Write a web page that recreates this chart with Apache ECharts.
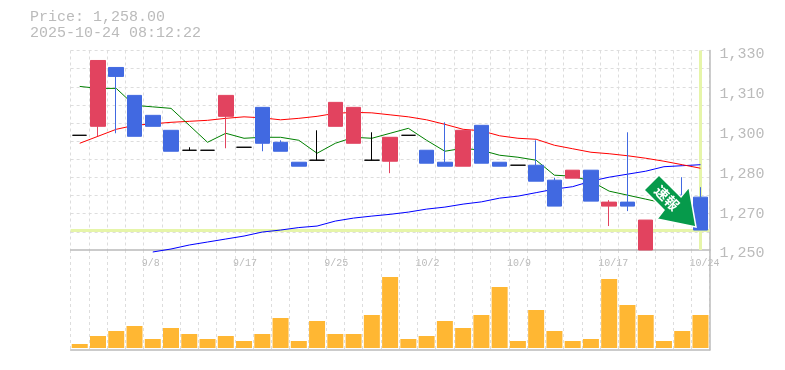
<!DOCTYPE html>
<html><head><meta charset="utf-8">
<script src="https://cdn.jsdelivr.net/npm/echarts@6/dist/echarts.min.js"></script>
<style>html,body{margin:0;padding:0;background:#fff}#c{width:785px;height:370px}</style>
</head><body><div id="c"></div>
<script>
const dates=['9/2','9/3','9/4','9/5','9/8','9/9','9/10','9/11','9/12','9/17','9/18','9/19','9/22','9/24','9/25','9/26','9/29','9/30','10/1','10/2','10/3','10/6','10/7','10/8','10/9','10/10','10/14','10/15','10/16','10/17','10/20','10/21','10/22','10/23','10/24'];
const shownDates=['9/8','9/17','9/25','10/2','10/9','10/17','10/24'];
const opens=[1296,1299.6,1323.2,1312,1304,1298,1290,1290,1303.6,1291.2,1307.2,1293.2,1285.2,1286,1299.6,1292.8,1286,1285.6,1296,1290,1285.2,1283.6,1300,1285.2,1284,1284,1278,1278.8,1282,1267.6,1269.2,1250,1274,1272,1271.2];
const closes=[1296,1326,1319.6,1295.6,1299.6,1289.6,1290,1290,1312,1291.2,1292.8,1289.6,1283.6,1286,1309.2,1307.2,1286,1295.2,1296,1284.8,1283.6,1298,1284.8,1283.6,1284,1277.6,1267.6,1282,1269.6,1269.2,1267.6,1262,1270,1264,1258];
const lows=[1296,1295.6,1296.8,1295.6,1299.6,1289.6,1290,1290,1290.8,1291.2,1289.6,1289.6,1283.6,1286,1299.6,1292.8,1286,1280.8,1296,1284.8,1283.6,1283.6,1284.8,1283.6,1284,1277.6,1267.6,1278.8,1269.6,1259.6,1265.6,1250,1270,1264,1258];
const highs=[1296,1326,1323.2,1312,1304,1298,1291.2,1290,1312,1291.2,1307.2,1294,1285.2,1298,1309.2,1307.2,1297.2,1295.2,1296,1290,1301.2,1298,1300,1285.2,1284,1294,1279,1282,1282,1270,1297.2,1262,1274,1279.2,1275.2];
const maShort=[1315.6,1314.8,1314.8,1308,1307.4,1306.8,1300,1293.2,1296.8,1294.8,1295.2,1295.2,1294,1288.8,1292.8,1295.2,1294.8,1296.8,1298.8,1294,1289.6,1290.8,1290,1288,1287.2,1286,1280,1279.6,1277.6,1273.6,1272,1270.4,1268.8,1267.6,1266];
const maMid=[1292.8,1295.6,1298.4,1300,1300.6,1301.2,1301.6,1302,1302.8,1303.4,1303,1302.2,1302.8,1303.6,1304.8,1305.2,1305,1304.2,1303.4,1302.2,1300.4,1298.4,1297.8,1295.8,1294.8,1294.4,1292,1290.6,1289.2,1288.6,1287.8,1286.8,1285.6,1284.2,1282.8];
const maLong=[null,null,null,null,1249.2,1250.4,1252,1253.2,1254.4,1255.6,1257.2,1258,1259,1259.6,1261.6,1262.8,1263.6,1264.3,1265.2,1266.4,1267.2,1268.4,1269.3,1270.8,1271.6,1273,1274.4,1275.4,1277.6,1279.2,1280.4,1281.6,1283.4,1283.8,1284.2];
const volumes=[4,12,17,22,9,20,14,9,12,7,14,30,7,27,14,14,33,71,9,12,27,20,33,61,7,38,17,7,9,69,43,33,7,17,33];
const gridPrices=[1250,1257.27,1264.55,1271.82,1279.09,1286.36,1293.64,1300.91,1308.18,1315.45,1322.73,1330];
const tickPrices=[1250,1266,1282,1298,1314,1330];
const tickLabels=['1,250','1,270','1,280','1,300','1,310','1,330'];
const lastPrice=1258, lastDate='10/24';
const priceText='Price: 1,258.00', timeText='2025-10-24 08:12:22', badgeText='速報';

const MONO='"Liberation Mono",monospace';
const GREY='#bbbbbb', GRID='#dddddd';
const dash={color:GRID,width:1,type:[3,3]};
const chart=echarts.init(document.getElementById('c'),null,{renderer:'canvas'});
chart.setOption({
  animation:false,
  backgroundColor:'#fff',
  title:{left:30,top:9,padding:0,text:priceText+'\n'+timeText,textStyle:{fontFamily:MONO,fontSize:15,fontWeight:'normal',color:GREY,lineHeight:16}},
  grid:[{left:70.6,width:639,top:50.5,height:199.5},{left:70.6,width:639,top:250,height:100}],
  xAxis:[
    {type:'category',gridIndex:0,data:dates,boundaryGap:true,
     axisLine:{onZero:false,lineStyle:{color:GREY,width:1.5}},axisTick:{show:false},
     splitLine:{show:true,interval:0,lineStyle:dash},
     axisLabel:{interval:(i,v)=>shownDates.includes(v),fontFamily:MONO,fontSize:10,color:GREY,margin:8,align:'left',padding:[0,0,0,-11],hideOverlap:false,showMaxLabel:true}},
    {type:'category',gridIndex:1,data:dates,boundaryGap:true,
     axisLine:{onZero:false,lineStyle:{color:GREY,width:1.5}},axisTick:{show:false},axisLabel:{show:false},
     splitLine:{show:true,interval:0,lineStyle:dash}}
  ],
  yAxis:[
    {type:'value',gridIndex:0,position:'right',min:1250,max:1330,scale:true,
     axisLine:{show:true,lineStyle:{color:GREY,width:1.5}},
     axisTick:{show:false,customValues:gridPrices},
     splitLine:{show:true,showMinLine:false,lineStyle:dash},
     axisLabel:{customValues:tickPrices,formatter:v=>tickLabels[tickPrices.indexOf(v)],fontFamily:MONO,fontSize:15,color:GREY,margin:10,verticalAlign:'top',padding:[-4,0,0,0]}},
    {type:'value',gridIndex:1,position:'right',min:-2,max:98,
     axisLine:{show:true,lineStyle:{color:GREY,width:1.5}},axisTick:{show:false},axisLabel:{show:false},splitLine:{show:false}}
  ],
  series:[
    {type:'line',name:'long',data:maLong,xAxisIndex:0,yAxisIndex:0,z:3,clip:false,symbol:'none',connectNulls:false,lineStyle:{color:'#0000ff',width:1},
     markLine:{silent:true,symbol:'none',label:{show:false},z:2,lineStyle:{color:'#e6f5a9',width:3,type:'solid'},data:[{yAxis:lastPrice},{xAxis:lastDate}]}},
    {type:'line',name:'mid',data:maMid,xAxisIndex:0,yAxisIndex:0,z:3,clip:false,symbol:'none',lineStyle:{color:'#ff0000',width:1}},
    {type:'line',name:'short',data:maShort,xAxisIndex:0,yAxisIndex:0,z:3,clip:false,symbol:'none',lineStyle:{color:'#008000',width:1}},
    {type:'candlestick',name:'price',xAxisIndex:0,yAxisIndex:0,z:4,barWidth:15,
     data:dates.map((_,i)=>[opens[i],closes[i],lows[i],highs[i]]),
     itemStyle:{color:'#e2435f',color0:'#4169e1',borderColor:'#e2435f',borderColor0:'#4169e1',borderColorDoji:'#000000',borderWidth:1}},
    {type:'bar',name:'volume',xAxisIndex:1,yAxisIndex:1,data:volumes,barWidth:16,itemStyle:{color:'#ffb733'}}
  ],
  graphic:[
    {type:'polygon',z:100,shape:{points:[[659,175],[644,190],[664,210],[657,219],[696,227],[689,187],[681,197]]},
     style:{fill:'#069a4b',stroke:'#ffffff',lineWidth:1.5}},
    {type:'text',z:101,x:667,y:198,rotation:-Math.PI/4,
     style:{text:badgeText,fill:'#fff',font:'bold 14px "Noto Sans CJK JP"',align:'center',verticalAlign:'middle'}}
  ]
});
</script></body></html>
